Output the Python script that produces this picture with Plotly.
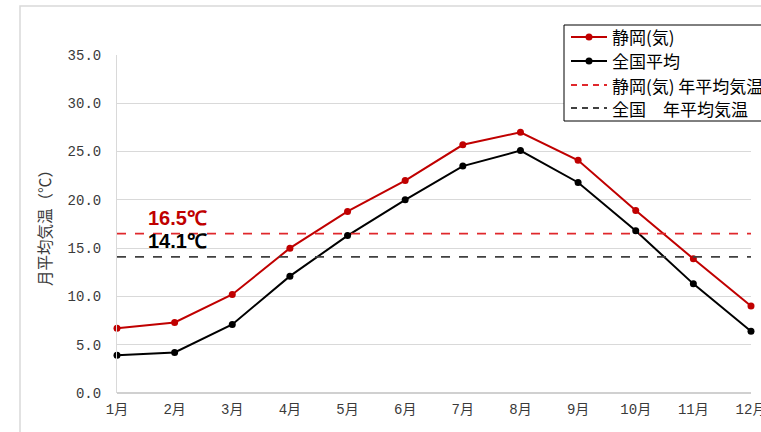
import plotly.graph_objects as go

months = ["1月", "2月", "3月", "4月", "5月", "6月", "7月", "8月", "9月", "10月", "11月", "12月"]
shizuoka = [6.7, 7.3, 10.2, 15.0, 18.8, 22.0, 25.7, 27.0, 24.1, 18.9, 13.9, 9.0]
national = [3.9, 4.2, 7.1, 12.1, 16.3, 20.0, 23.5, 25.1, 21.8, 16.8, 11.3, 6.4]
shizuoka_annual = 16.5
national_annual = 14.1

series_names = ["静岡(気)", "全国平均", "静岡(気) 年平均気温", "全国　年平均気温"]

RED = "#c00000"
BLACK = "#000000"
RED_DASH = "#e0282c"
GRAY_DASH = "#404040"
FONT = "Noto Sans CJK JP"
TICK_FONT = "Liberation Mono, Noto Sans CJK JP"

W, H = 761, 432
M = dict(l=117, r=10, t=55, b=39)
PW = W - M["l"] - M["r"]
PH = H - M["t"] - M["b"]


def px2x(px):
    return (px - M["l"]) / PW


def px2y(py):
    return (H - M["b"] - py) / PH


x_idx = list(range(len(months)))

fig = go.Figure()
fig.add_trace(go.Scatter(
    x=x_idx, y=shizuoka, name=series_names[0], mode="lines+markers",
    line=dict(color=RED, width=2), marker=dict(color=RED, size=7),
    cliponaxis=False))
fig.add_trace(go.Scatter(
    x=x_idx, y=national, name=series_names[1], mode="lines+markers",
    line=dict(color=BLACK, width=2), marker=dict(color=BLACK, size=7),
    cliponaxis=False))
fig.add_trace(go.Scatter(
    x=x_idx, y=[shizuoka_annual] * len(months), name=series_names[2], mode="lines",
    line=dict(color=RED_DASH, width=1.6, dash="dash")))
fig.add_trace(go.Scatter(
    x=x_idx, y=[national_annual] * len(months), name=series_names[3], mode="lines",
    line=dict(color=GRAY_DASH, width=1.6, dash="dash")))

# labels for the annual mean lines
for val, col in [(shizuoka_annual, RED), (national_annual, BLACK)]:
    fig.add_annotation(
        x=0.5, y=val, xref="x", yref="y", text=f"<b>{val:.1f}℃</b>",
        showarrow=False, xanchor="left", yanchor="bottom", yshift=3,
        font=dict(family="Liberation Sans", size=20, color=col))

# outer chart frame
fig.add_shape(type="rect", xref="paper", yref="paper",
              x0=px2x(20), x1=px2x(W + 20), y0=px2y(H + 20), y1=px2y(6),
              line=dict(color="#d9d9d9", width=1.5), layer="below")

# legend box, drawn by hand so it can run past the right edge
fig.add_shape(type="rect", xref="paper", yref="paper",
              x0=px2x(564), x1=px2x(W + 20), y0=px2y(121), y1=px2y(25),
              line=dict(color="#000000", width=1), fillcolor="white", layer="above")
legend_rows = [
    (series_names[0], RED, "solid", True),
    (series_names[1], BLACK, "solid", True),
    (series_names[2], RED_DASH, "6px,5px", False),
    (series_names[3], GRAY_DASH, "6px,5px", False),
]
row_y = [37, 61, 85, 108]
for (label, col, dash, has_marker), py in zip(legend_rows, row_y):
    fig.add_shape(type="line", xref="paper", yref="paper",
                  x0=px2x(571), x1=px2x(607), y0=px2y(py), y1=px2y(py),
                  line=dict(color=col, width=2 if has_marker else 1.8, dash=dash),
                  layer="above")
    if has_marker:
        fig.add_shape(type="circle", xref="paper", yref="paper",
                      xsizemode="pixel", ysizemode="pixel",
                      xanchor=px2x(589), yanchor=px2y(py),
                      x0=-3.5, x1=3.5, y0=-3.5, y1=3.5,
                      line=dict(color=col, width=0), fillcolor=col, layer="above")
    fig.add_annotation(x=px2x(610), y=px2y(py), xref="paper", yref="paper",
                       text=label, showarrow=False, xanchor="left", yanchor="middle",
                       font=dict(family=FONT, size=17, color="#000000"))

fig.update_layout(
    width=W, height=H,
    margin=M,
    paper_bgcolor="white", plot_bgcolor="white",
    font=dict(family=FONT, color="#404040", size=13),
    showlegend=False,
)
fig.update_xaxes(
    range=[0, 11], tickmode="array", tickvals=x_idx, ticktext=months,
    showgrid=False, showline=False, zeroline=False, ticks="",
    ticklabeloverflow="allow", ticklabelstandoff=6, automargin=False,
    tickfont=dict(family=TICK_FONT, size=14, color="#3a3a3a"),
)
fig.update_yaxes(
    range=[0, 35], dtick=5, tickformat=".1f",
    showgrid=True, gridcolor="#d9d9d9", gridwidth=1,
    showline=True, linecolor="#d9d9d9", linewidth=1,
    zeroline=True, zerolinecolor="#d0d0d0", zerolinewidth=2,
    ticks="", ticklabelstandoff=12, automargin=False,
    tickfont=dict(family=TICK_FONT, size=14, color="#3a3a3a"),
    title=dict(text="月平均気温（℃）", font=dict(family=FONT, size=15.5, color="#3a3a3a"), standoff=12),
)

fig.write_html("out.html")
